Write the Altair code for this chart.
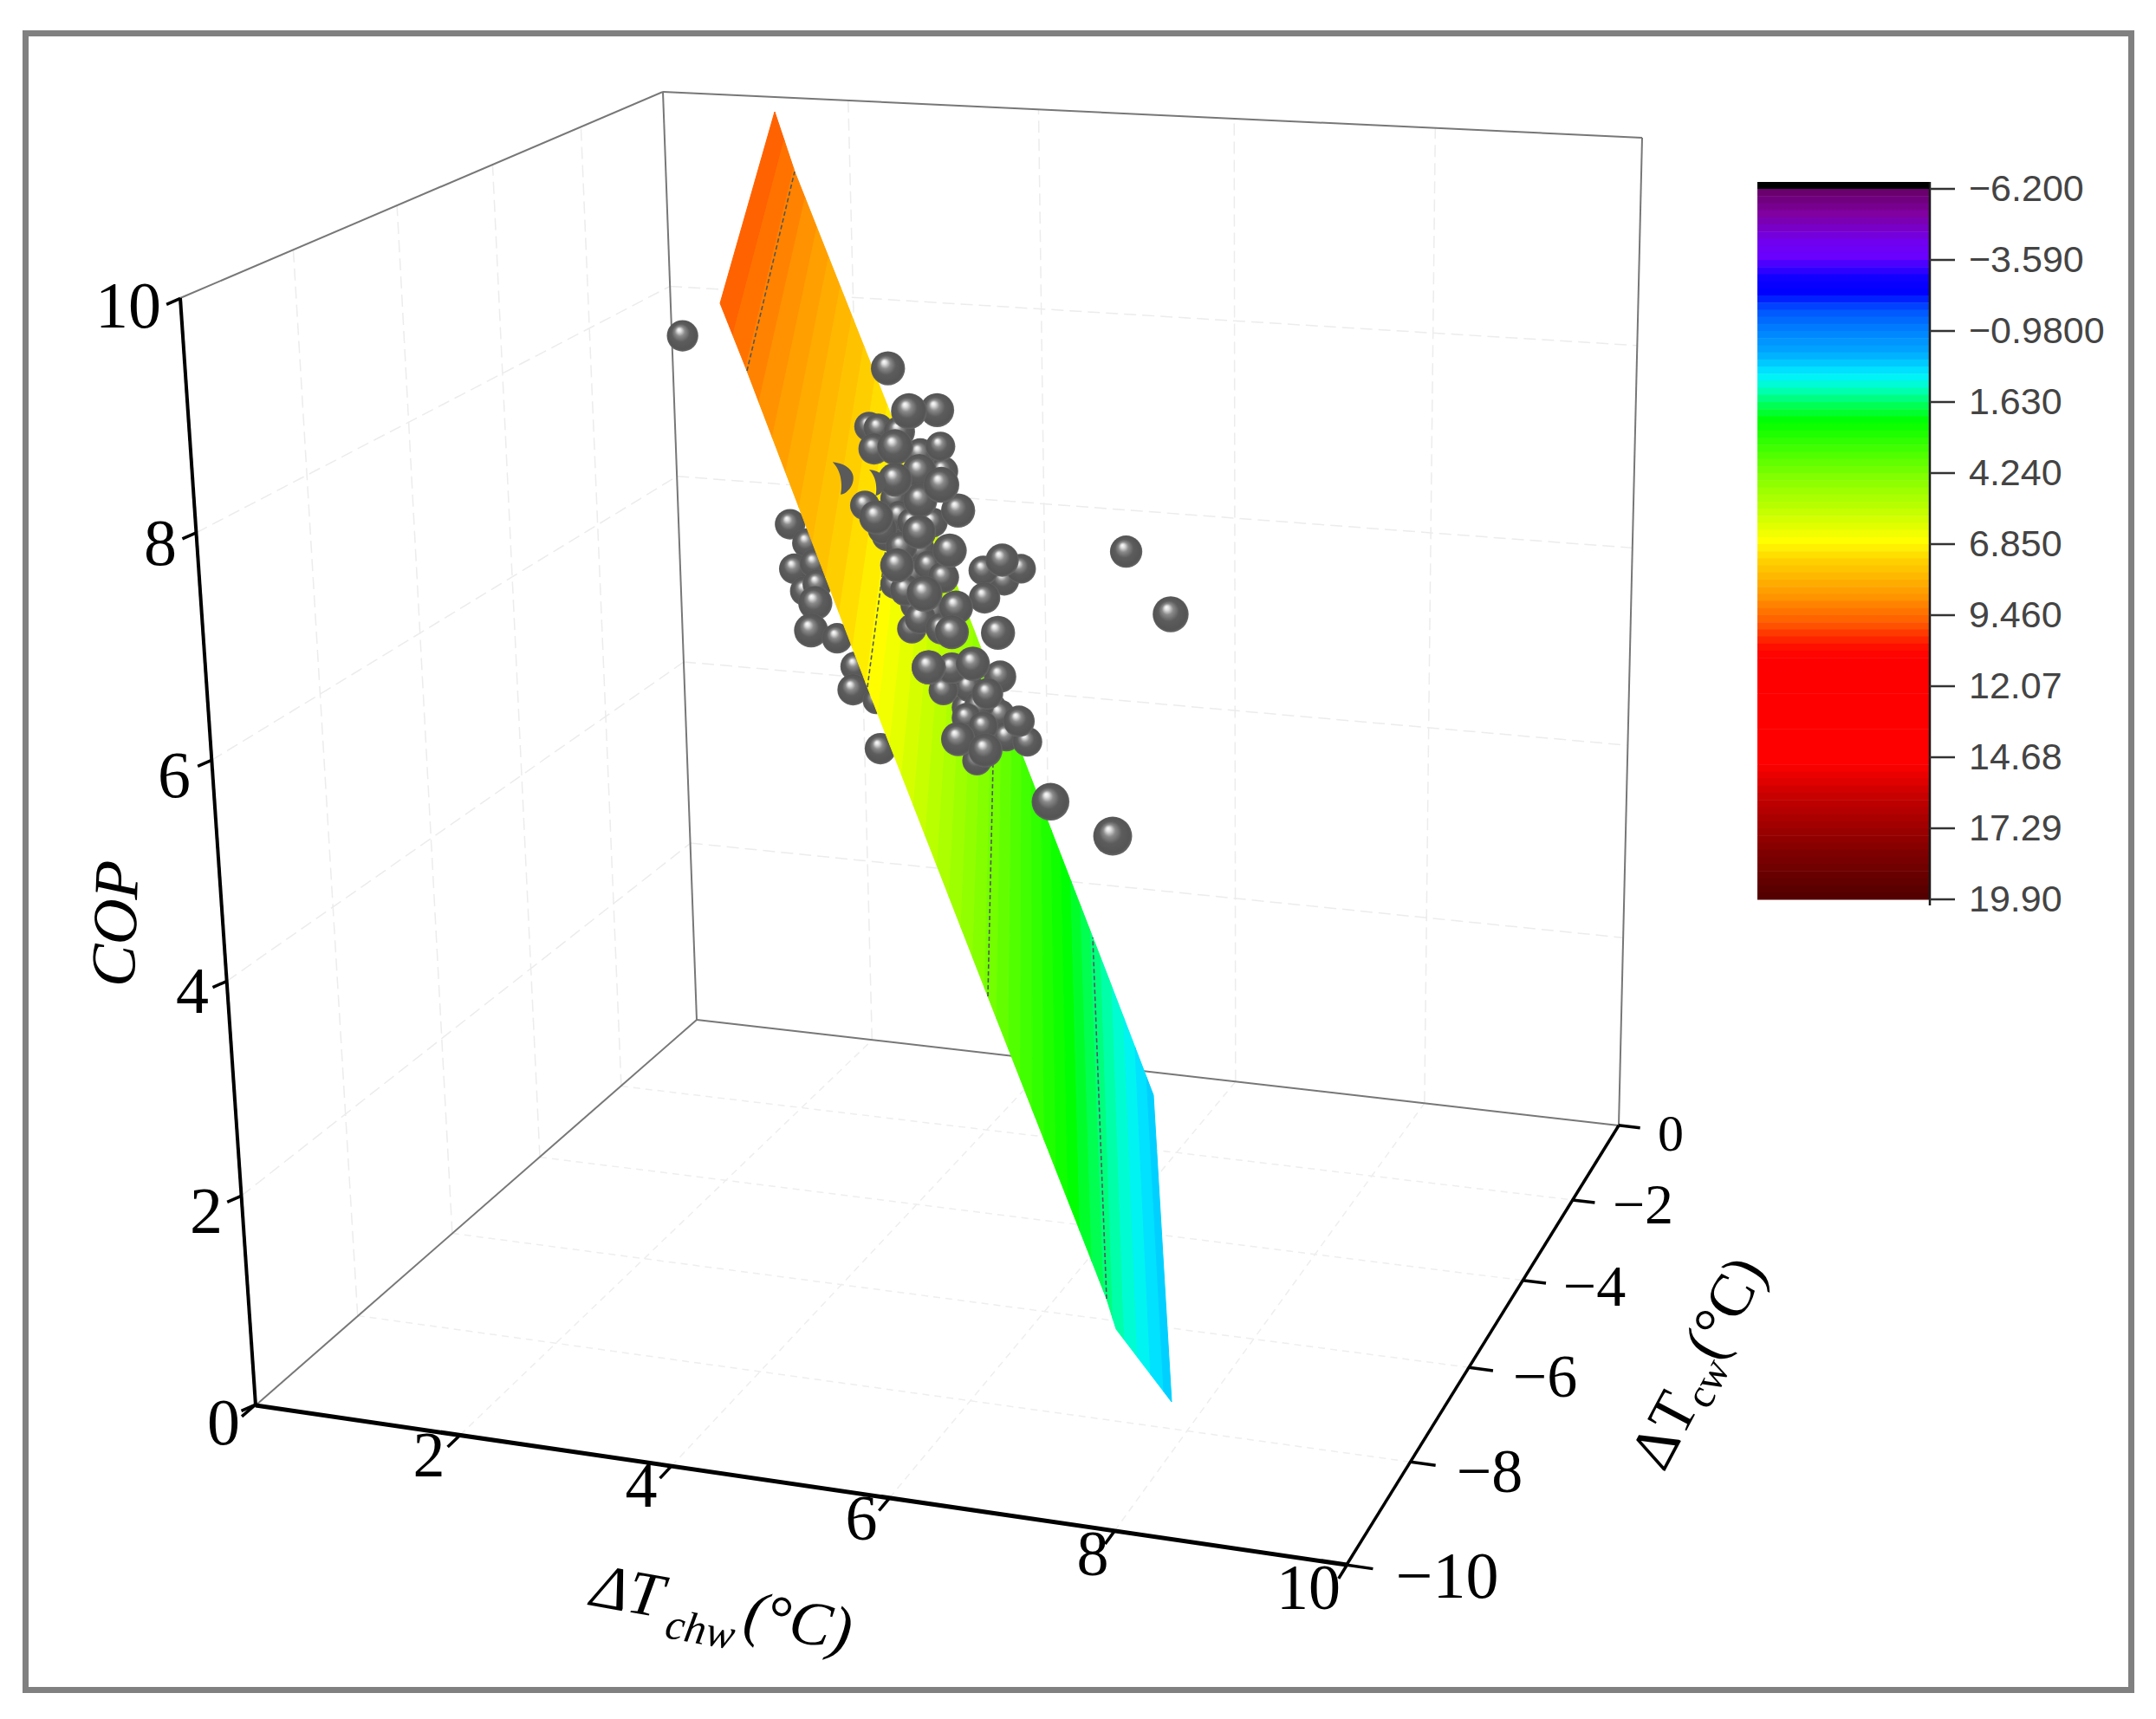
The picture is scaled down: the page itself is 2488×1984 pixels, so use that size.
import numpy as np
import pandas as pd
import altair as alt

alt.data_transformers.disable_max_rows()

W, H = 2472, 1968
X_SCALE = alt.Scale(domain=[8, 8 + W], nice=False, zero=False)
Y_SCALE = alt.Scale(domain=[8 + H, 8], nice=False, zero=False)

# --- box corners: (dTchw, dTcw, COP) and where they sit on the picture
box_3d = [(0, -10, 0), (10, -10, 0), (10, 0, 0), (0, 0, 0), (0, -10, 10), (0, 0, 10), (10, 0, 10)]
box_2d = [(295, 1622), (1554, 1806), (1868, 1299), (804, 1177), (208, 344), (765, 106), (1895, 159)]

grid_vals_chw = [2, 4, 6, 8]
grid_vals_cw = [-2, -4, -6, -8]
grid_vals_cop = [2, 4, 6, 8]

# --- tick labels
cop_labels = ["0", "2", "4", "6", "8", "10"]
cop_label_x = [258, 238, 222, 201, 185, 148]
cop_label_y = [1644, 1400, 1146, 897, 629, 355]
chw_labels = ["2", "4", "6", "8", "10"]
chw_label_x = [495, 740, 994, 1261, 1510]
chw_label_y = [1682, 1717, 1755, 1796, 1835]
cw_labels = ["0", "\u22122", "\u22124", "\u22126", "\u22128", "\u221210"]
cw_label_x = [1928, 1896, 1840, 1783, 1719, 1670]
cw_label_y = [1310, 1392, 1487, 1591, 1700, 1821]
cw_label_size = [60, 66, 68, 70, 72, 76]

# --- colour scale
stop_v = [-6.2, -5.28, -4.23, -3.69, -2.95, -2.41, -1.78, -1.04, -0.18, 0.64, 1.09, 1.69, 2.33,
          4.34, 5.58, 6.72, 7.49, 8.73, 9.75, 10.6, 11.0, 14.9, 16.27, 18.18, 19.9]
stop_c = ["#660066", "#8000a0", "#7000f0", "#6a00ff", "#1000ff", "#0000ff", "#0050ff", "#0080ff",
          "#00a8ff", "#00f0ff", "#00ffc8", "#00ff60", "#00ff00", "#80ff00", "#c0ff00", "#ffff00",
          "#ffd000", "#ff9800", "#ff5a00", "#ff1000", "#ff0000", "#ff0000", "#c00000", "#800000",
          "#500000"]
bar_labels = ["\u22126.200", "\u22123.590", "\u22120.9800", "1.630", "4.240", "6.850", "9.460",
              "12.07", "14.68", "17.29", "19.90"]
bar_values = [-6.2, -3.59, -0.98, 1.63, 4.24, 6.85, 9.46, 12.07, 14.68, 17.29, 19.9]

# --- fitted surface: control lines across the sheet (lower end, upper end, value)
sheet_low_x = [831, 862, 1001, 1140, 1277, 1288, 1352]
sheet_low_y = [350, 428, 793, 1150, 1499, 1534, 1618]
sheet_up_x = [894, 917, 1039, 1148, 1261, 1275, 1331]
sheet_up_y = [129, 198, 506, 790, 1082, 1118, 1264]
sheet_v = [9.75, 9.2, 6.85, 4.2, 1.6, 1.3, 0.2]

# --- spheres as read on the crop of the cluster (crop units: x, y, radius)
behind_zx = [540, 580, 550, 598, 575, 605, 600, 590, 652, 695, 690, 745, 755]
behind_zy = [645, 700, 775, 760, 840, 820, 875, 955, 978, 1060, 1128, 1160, 1300]
behind_zr = [34, 33, 34, 33, 33, 33, 38, 38, 34, 33, 35, 30, 35]

# listed back to front
front_zx = [830, 770, 850, 830, 840, 880, 960, 1020, 1000,
            790, 800, 830, 870, 790, 870, 718, 728, 1040, 830, 965, 985, 1050, 1055, 880, 905,
            760, 990, 960, 1000, 850, 898, 750, 1090, 1000, 1105, 905, 925, 1003, 800, 805, 905,
            850, 900, 1045, 815, 1040, 740, 870, 890, 920, 940, 790, 848, 850, 745, 847, 795,
            975, 1035, 935, 1085, 1010, 925, 823, 900, 790, 870, 860, 940, 1005, 284, 773, 1340,
            1446, 1160]
front_zy = [530, 680, 720, 790, 880, 900, 1180, 1180, 1260,
            570, 620, 640, 450, 820, 765, 590, 360, 1200, 950, 1120, 1335, 810, 1265, 640, 490,
            660, 1175, 1210, 1235, 440, 418, 365, 775, 780, 1280, 1130, 1065, 860, 375, 712, 800,
            920, 950, 750, 838, 1090, 425, 1063, 312, 722, 605, 420, 490, 575, 625, 668, 765,
            1052, 962, 888, 1220, 1140, 960, 315, 530, 515, 1063, 848, 1272, 1305, 95, 190, 725,
            908, 1455]
front_zr = [33, 33, 33, 33, 35, 35, 33, 33, 33,
            33, 33, 33, 33, 33, 33, 33, 33, 33, 33, 33, 33, 33, 33, 33, 33,
            33, 33, 33, 33, 35, 33, 33, 33, 33, 33, 33, 35, 35, 35, 35, 35,
            35, 35, 37, 35, 36, 35, 38, 38, 38, 38, 40, 38, 38, 38, 38, 38,
            38, 38, 38, 35, 35, 38, 40, 40, 38, 38, 40, 38, 38, 35, 38, 36,
            40, 42]
far_sphere_x = [1284]
far_sphere_y = [965]
far_sphere_r = [21]
lens_x = [972, 1012]
lens_y = [552, 557]
lens_size = [1400, 900]
sphere_growth = 1.07


def crop_to_px(zx, zy, zr):
    return (650 + np.array(zx) / 2.063, 350 + np.array(zy) / 2.529, np.array(zr) / 2.063)


# ---- projection fitted to the box corners
rows = []
for (a, b, c), (u, v) in zip(box_3d, box_2d):
    rows.append([a, b, c, 1, 0, 0, 0, 0, -u * a, -u * b, -u * c, -u])
    rows.append([0, 0, 0, 0, a, b, c, 1, -v * a, -v * b, -v * c, -v])
P = np.linalg.svd(np.array(rows, float))[2][-1].reshape(3, 4)


def proj(a, b, c):
    h = P @ np.array([a, b, c, 1.0])
    return h[0] / h[2], h[1] / h[2]


def seg_df(segs):
    out = []
    for g, pts in enumerate(segs):
        for k, (x, y) in enumerate(pts):
            out.append({"x": float(x), "y": float(y), "g": g, "k": k})
    return pd.DataFrame(out)


def xy():
    return dict(x=alt.X("x:Q", scale=X_SCALE, axis=None), y=alt.Y("y:Q", scale=Y_SCALE, axis=None))


def lines(segs, **mark):
    return alt.Chart(seg_df(segs)).mark_line(**mark).encode(**xy(), detail="g:N", order="k:Q")


def p3(a, b, c):
    return proj(a, b, c)


walls = []
for c in grid_vals_chw:
    walls.append([p3(c, 0, 0), p3(c, 0, 10)])
for z in grid_vals_cop:
    walls.append([p3(0, 0, z), p3(10, 0, z)])
for w in grid_vals_cw:
    walls.append([p3(0, w, 0), p3(0, w, 10)])
for z in grid_vals_cop:
    walls.append([p3(0, -10, z), p3(0, 0, z)])
floor = []
for c in grid_vals_chw:
    floor.append([p3(c, -10, 0), p3(c, 0, 0)])
for w in grid_vals_cw:
    floor.append([p3(0, w, 0), p3(10, w, 0)])

grid = lines(walls, color="#ececec", strokeWidth=1.5, strokeDash=[14, 7])
grid2 = lines(floor, color="#eeeeee", strokeWidth=1.5, strokeDash=[8, 6])

box_lines = lines(
    [[box_2d[4], box_2d[5]], [box_2d[5], box_2d[6]], [box_2d[6], box_2d[2]], [box_2d[2], box_2d[3]],
     [box_2d[3], box_2d[0]], [box_2d[5], box_2d[3]]],
    color="#777777", strokeWidth=2,
)

# ---- axes
axis_lines = alt.layer(
    lines([[box_2d[4], box_2d[0]]], color="#000000", strokeWidth=4),
    lines([[box_2d[0], box_2d[1]]], color="#000000", strokeWidth=5),
    lines([[box_2d[1], box_2d[2]]], color="#000000", strokeWidth=3.5),
)
ticks = []
for z in [0, 2, 4, 6, 8, 10]:
    x0, y0 = p3(0, -10, z)
    ticks.append([(x0, y0), (x0 - 16, y0 + 7)])
for c in [0, 2, 4, 6, 8, 10]:
    ticks.append([p3(c, -10, 0), p3(c, -10.25, 0)])
for w in [0, -2, -4, -6, -8, -10]:
    ticks.append([p3(10, w, 0), p3(10.22, w, 0)])
tick_lines = lines(ticks, color="#000000", strokeWidth=3.5)

# ---- surface
ctrl = np.arange(len(sheet_v), dtype=float)
rev_v = np.array(sheet_v)[::-1]
rev_s = ctrl[::-1]


def s_of(v):
    return float(np.interp(v, rev_v, rev_s))


def hex_of(v):
    vals = np.array([[int(c[i:i + 2], 16) for i in (1, 3, 5)] for c in stop_c], float)
    rgb = [int(round(np.interp(v, stop_v, vals[:, i]))) for i in range(3)]
    return "#%02x%02x%02x" % tuple(rgb)


def edge(xs, ys, s):
    return np.interp(s, ctrl, xs), np.interp(s, ctrl, ys)


band_step = 0.261
band_edges = list(np.arange(9.75, 0.2, -band_step)) + [0.2]
sheet_rows = []
for j in range(len(band_edges) - 1):
    v1, v2 = band_edges[j], band_edges[j + 1]
    ss = np.unique(np.r_[np.linspace(s_of(v1), s_of(v2), 4),
                         ctrl[(ctrl > s_of(v1)) & (ctrl < s_of(v2))]])
    poly = [edge(sheet_low_x, sheet_low_y, s) for s in ss] + [edge(sheet_up_x, sheet_up_y, s) for s in ss[::-1]]
    poly.append(poly[0])
    col = hex_of((v1 + v2) / 2)
    for k, (x, y) in enumerate(poly):
        sheet_rows.append({"x": float(x), "y": float(y), "g": j, "k": k, "c": col})
surface = alt.Chart(pd.DataFrame(sheet_rows)).mark_line(strokeWidth=1).encode(
    **xy(), detail="g:N", order="k:Q",
    fill=alt.Fill("c:N", scale=None, legend=None),
    stroke=alt.Stroke("c:N", scale=None, legend=None),
)
surface_grid = lines(
    [[(sheet_low_x[i], sheet_low_y[i]), (sheet_up_x[i], sheet_up_y[i])] for i in (1, 2, 3, 4)],
    color="#555555", strokeWidth=1.6, strokeDash=[5, 3],
)

# ---- spheres
ball = alt.RadialGradient(
    gradient="radial", x1=0.38, y1=0.30, r1=0, x2=0.5, y2=0.5, r2=0.52,
    stops=[
        alt.GradientStop(offset=0, color="#ffffff"),
        alt.GradientStop(offset=0.12, color="#e0e0e0"),
        alt.GradientStop(offset=0.3, color="#8a8a8a"),
        alt.GradientStop(offset=0.55, color="#5c5c5c"),
        alt.GradientStop(offset=0.88, color="#545454"),
        alt.GradientStop(offset=1, color="#707070"),
    ],
)


def spheres(x, y, r):
    df = pd.DataFrame({"x": x, "y": y, "d2": (2 * np.array(r, float) * sphere_growth) ** 2})
    return alt.Chart(df).mark_circle(fill=ball, opacity=1).encode(
        **xy(), size=alt.Size("d2:Q", scale=None, legend=None)
    )


bx, by, br = crop_to_px(behind_zx, behind_zy, behind_zr)
fx, fy, fr = crop_to_px(front_zx, front_zy, front_zr)
behind = spheres(bx, by, br)
front = spheres(np.r_[far_sphere_x, fx], np.r_[far_sphere_y, fy], np.r_[far_sphere_r, fr])
lens = alt.Chart(pd.DataFrame({"x": lens_x, "y": lens_y, "s": lens_size})).mark_point(
    shape="M-0.6,-1 C0.4,-0.9 0.9,-0.3 0.6,0.4 C0.4,0.8 0.1,1 -0.1,1 C0,0.5 0,-0.4 -0.6,-1 Z",
    filled=True, fill="#5a5a5a", opacity=1,
).encode(**xy(), size=alt.Size("s:Q", scale=None, legend=None))


# ---- text
def text_layer(labels, x, y, size, angle=0, font="Liberation Serif", style="normal", color="#000000", align="center"):
    df = pd.DataFrame({"t": labels, "x": x, "y": y, "s": size})
    return alt.Chart(df).mark_text(
        font=font, fontStyle=style, color=color, align=align, baseline="middle", angle=angle % 360
    ).encode(**xy(), text="t:N", size=alt.Size("s:Q", scale=None, legend=None))


texts = alt.layer(
    text_layer(cop_labels, cop_label_x, cop_label_y, [76] * 6),
    text_layer(chw_labels, chw_label_x, chw_label_y, [74] * 5),
    text_layer(cw_labels, cw_label_x, cw_label_y, cw_label_size),
    text_layer(["COP"], [135], [1066], [73], angle=-88, style="italic"),
    text_layer(["\u0394T"], [724], [1838], [72], angle=10, style="italic"),
    text_layer(["chw"], [808], [1882], [50], angle=10, style="italic"),
    text_layer(["(\u00b0C)"], [921], [1873], [72], angle=10, style="italic"),
    text_layer(["\u0394T"], [1922], [1652], [70], angle=-62),
    text_layer(["cw"], [1972], [1597], [48], angle=-62),
    text_layer(["(\u00b0C)"], [1992], [1510], [70], angle=-62),
)

# ---- colour bar
BAR_L, BAR_R = 2028, 2227


def bar_y(v):
    return 218 + (np.asarray(v, float) + 6.2) / 2.61 * 82


bar_edges = np.arange(-6.2, 19.9 + 1e-6, 0.261)
bar_df = pd.DataFrame({
    "x": BAR_L, "x2": BAR_R,
    "y": bar_y(bar_edges[:-1]), "y2": bar_y(bar_edges[1:]) + 0.5,
    "c": [hex_of(v) for v in (bar_edges[:-1] + bar_edges[1:]) / 2],
})
bar = alt.Chart(bar_df).mark_rect().encode(
    **xy(), x2="x2:Q", y2="y2:Q", color=alt.Color("c:N", scale=None, legend=None)
)
bar_top = alt.Chart(pd.DataFrame({"x": [BAR_L], "x2": [BAR_R], "y": [210], "y2": [218]})).mark_rect(
    color="#000000").encode(**xy(), x2="x2:Q", y2="y2:Q")
bar_axis = lines([[(BAR_R, 210), (BAR_R, 1045)]], color="#1a1a1a", strokeWidth=2.5)
bar_ticks = lines([[(BAR_R, float(bar_y(v))), (2256, float(bar_y(v)))] for v in bar_values],
                  color="#333333", strokeWidth=2.5)
bar_text = text_layer(bar_labels, [2272] * 11, list(bar_y(bar_values) + 1), [43] * 11,
                      font="Liberation Sans", color="#444444", align="left")

# ---- outer frame
frame = alt.Chart(pd.DataFrame({"x": [29.5], "x2": [2459.5], "y": [38.5], "y2": [1950.5]})).mark_rect(
    fill=None, stroke="#808080", strokeWidth=7).encode(**xy(), x2="x2:Q", y2="y2:Q")

chart = alt.layer(
    frame, grid, grid2, box_lines, behind, surface, surface_grid, front, lens,
    axis_lines, tick_lines, texts, bar, bar_top, bar_axis, bar_ticks, bar_text,
).properties(
    width=W, height=H, padding=0, background="#ffffff",
    autosize=alt.AutoSizeParams(type="none"),
).configure_view(stroke=None)

chart.save("out.html", embed_options={"renderer": "svg", "actions": False})
